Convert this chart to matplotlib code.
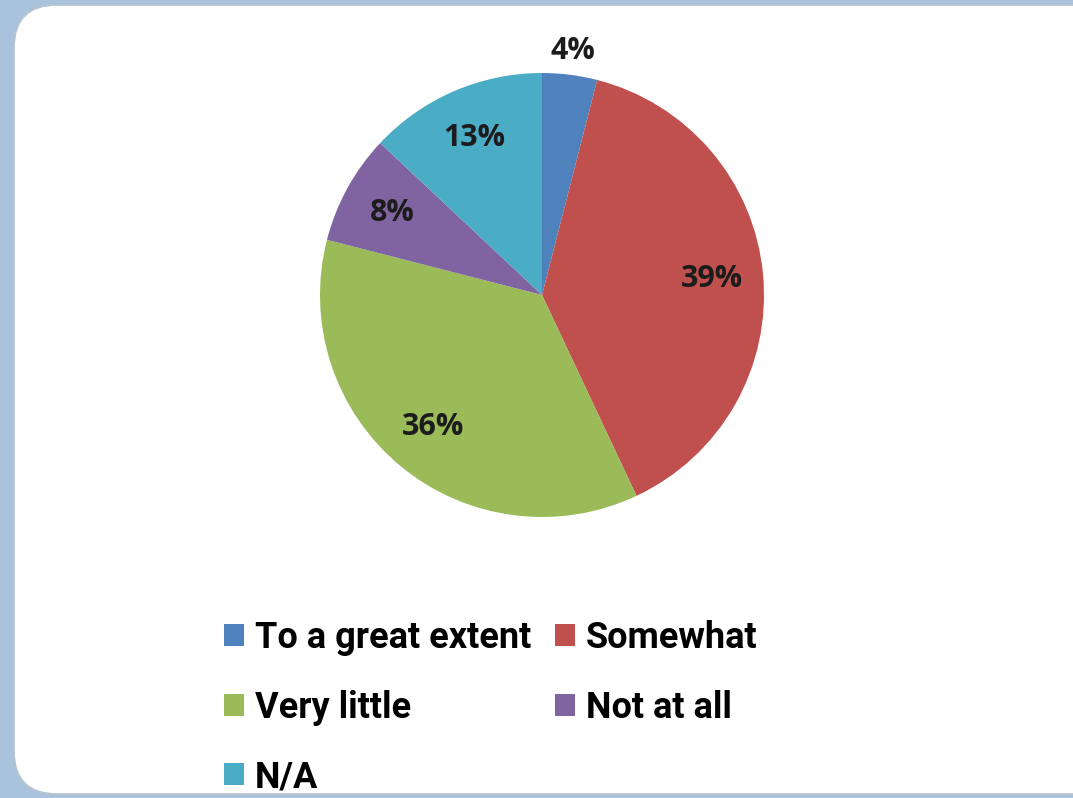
import matplotlib
matplotlib.use("Agg")
import matplotlib.pyplot as plt
from matplotlib.patches import FancyBboxPatch, Patch

categories = ["To a great extent", "Somewhat", "Very little", "Not at all", "N/A"]
values = [4, 39, 36, 8, 13]
colors = ["#4F81BD", "#C0504D", "#9BBB59", "#8064A2", "#4BACC6"]

plt.rcParams["font.family"] = ["Roboto", "DejaVu Sans"]

fig = plt.figure(figsize=(10.73, 7.98), dpi=100)
fig.patch.set_facecolor("#a9c3dc")

# white card with rounded corners
card = FancyBboxPatch((14 / 1073, 4 / 798), 1.2, 789 / 798,
                      boxstyle="round,pad=0,rounding_size=0.04",
                      transform=fig.transFigure, facecolor="white",
                      edgecolor="#b8c4d0", linewidth=1.2,
                      mutation_aspect=1073 / 798, zorder=-10)
fig.patches.append(card)

ax = fig.add_axes([(542 - 222) / 1073, 1 - (295 + 222) / 798, 444 / 1073, 444 / 798])
ax.set_zorder(1)
ax.patch.set_visible(False)
wedges, texts, autotexts = ax.pie(
    values,
    colors=colors,
    startangle=90,
    counterclock=False,
    autopct="%d%%",
    pctdistance=0.77,
    wedgeprops=dict(linewidth=0),
)
ax.set_xlim(-1, 1)
ax.set_ylim(-1, 1)
ax.set_aspect("equal")

for t in autotexts:
    t.set_fontsize(22)
    t.set_fontweight("bold")
    t.set_family(["Open Sans", "DejaVu Sans"])
    t.set_color("#1c1c1c")

# small slice label sits outside the pie
x, y = autotexts[0].get_position()
scale = 1.11 / 0.77
autotexts[0].set_position((x * scale, y * scale))

order = [0, 2, 4, 1, 3]
handles = [Patch(facecolor=colors[i], edgecolor="none") for i in order]
labels = [categories[i] for i in order]
leg = fig.legend(handles, labels, ncol=2, loc="upper left",
                 bbox_to_anchor=(224 / 1073, 1 - 620 / 798),
                 frameon=False, prop=dict(size=26, weight="bold"),
                 handlelength=0.56, handleheight=0.56, handletextpad=0.3,
                 columnspacing=0.65, labelspacing=0.93, borderaxespad=0, borderpad=0)
leg.set_zorder(2)

fig.savefig("out.png", dpi=100, facecolor=fig.get_facecolor())
